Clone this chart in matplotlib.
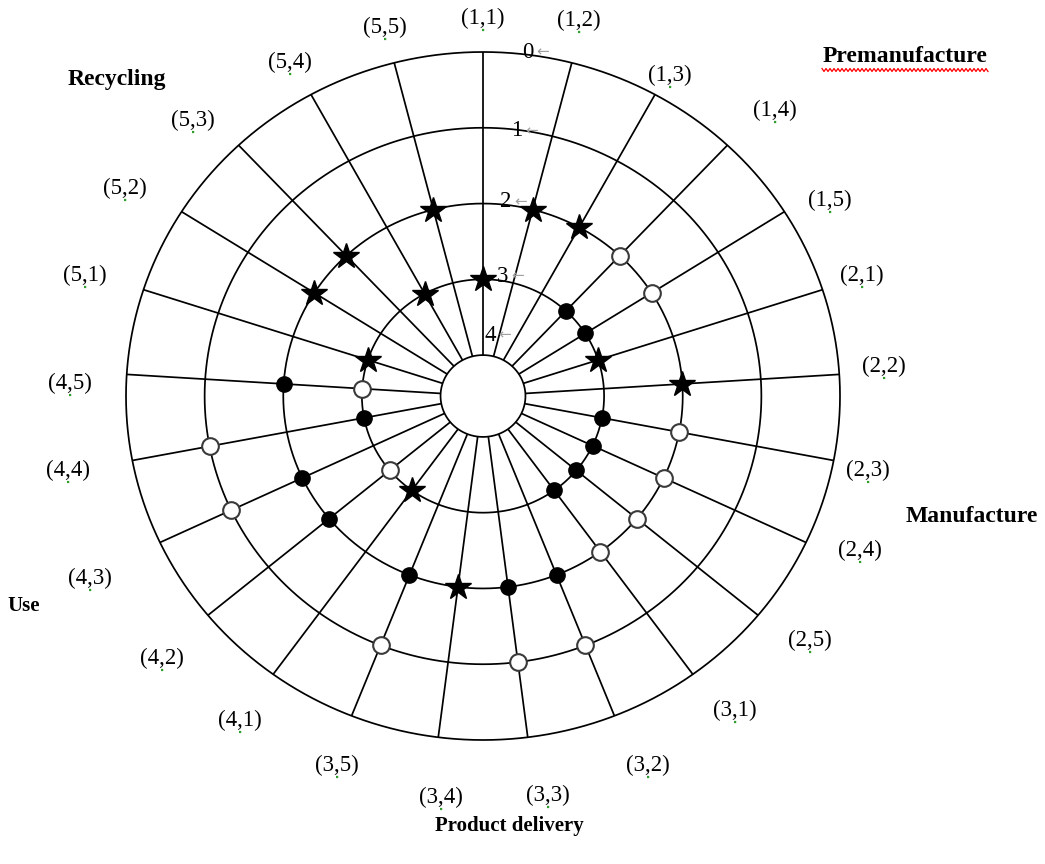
import numpy as np
import matplotlib
matplotlib.use("Agg")
import matplotlib.pyplot as plt
from matplotlib.lines import Line2D

# ---------------- data ----------------
categories = ["(1,1)", "(1,2)", "(1,3)", "(1,4)", "(1,5)",
              "(2,1)", "(2,2)", "(2,3)", "(2,4)", "(2,5)",
              "(3,1)", "(3,2)", "(3,3)", "(3,4)", "(3,5)",
              "(4,1)", "(4,2)", "(4,3)", "(4,4)", "(4,5)",
              "(5,1)", "(5,2)", "(5,3)", "(5,4)", "(5,5)"]
nan = np.nan
star_values = [3, 2, 2, nan, nan, 3, 2, nan, nan, nan,
               nan, nan, nan, 2, nan, 3, nan, nan, nan, nan,
               3, 2, 2, 3, 2]
filled_values = [nan, nan, nan, 3, 3, nan, nan, 3, 3, 3,
                 3, 2, 2, nan, 2, nan, 2, 2, 3, 2,
                 nan, nan, nan, nan, nan]
open_values = [nan, nan, nan, 2, 2, nan, nan, 2, 2, 2,
               2, 1, 1, nan, 1, nan, 3, 1, 1, 3,
               nan, nan, nan, nan, nan]
ring_levels = [0, 1, 2, 3, 4]
stage_labels = ["Premanufacture", "Manufacture", "Product delivery", "Use", "Recycling"]

# ---------------- layout (pixels from top-left) ----------------
W, H = 1045, 864
label_px = [(483, 18), (579, 20), (670, 75), (775, 110), (830, 200),
            (862, 275), (884, 366), (868, 470), (860, 550), (810, 640),
            (735, 710), (648, 765), (548, 795), (441, 797), (337, 765),
            (240, 720), (162, 658), (90, 578), (68, 470), (70, 383),
            (85, 275), (125, 188), (193, 120), (290, 62), (385, 27)]
stage_px = [(905, 57), (972, 517), (509, 826), (24, 606), (117, 80)]
stage_size = [17, 17, 15, 15, 17]

fig = plt.figure(figsize=(W / 100, H / 100), dpi=100)
fig.patch.set_facecolor("white")

left, right, top, bottom = 126, 840, 52, 740
ax = fig.add_axes([left / W, 1 - bottom / H, (right - left) / W, (bottom - top) / H],
                  projection="polar")
ax.set_theta_zero_location("N")
ax.set_theta_direction(-1)
ax.set_ylim(4.54, 0)          # reversed radial axis: 0 at rim
ax.set_aspect("auto")
ax.grid(False)
ax.set_xticks([])
ax.set_yticks([])
ax.spines["polar"].set_visible(False)
ax.patch.set_alpha(0)

n = len(categories)
theta = np.arange(n) * 2 * np.pi / n
theta_fine = np.linspace(0, 2 * np.pi, 721)

line_kw = dict(color="black", lw=1.25, solid_capstyle="butt", zorder=1, clip_on=False)
for lv in ring_levels:
    ax.plot(theta_fine, np.full_like(theta_fine, lv), **line_kw)
for t in theta:
    ax.plot([t, t], [ring_levels[-1], ring_levels[0]], **line_kw)

ax.plot(theta, star_values, ls="none", marker="*", ms=19, color="black",
        mec="black", zorder=4, clip_on=False)
ax.plot(theta, filled_values, ls="none", marker="o", ms=11, color="black",
        zorder=4, clip_on=False)
ax.plot(theta, open_values, ls="none", marker="o", ms=12, mfc="white",
        mec="#3a3a3a", mew=1.5, zorder=4, clip_on=False)

serif = ["Liberation Serif", "DejaVu Serif"]

# category labels
for lab, (x, y) in zip(categories, label_px):
    fig.text(x / W, 1 - y / H, lab, ha="center", va="center", fontsize=16.5,
             family=serif, color="black")
    fig.add_artist(Line2D([(x - 1) / W, (x + 4) / W], [1 - (y + 12) / H] * 2,
                          transform=fig.transFigure, color="#2e9e2e",
                          lw=1.6, ls=(0, (1, 1.5))))

# radial tick labels
tick_dx = [45, 34, 23, 20, 7]
tick_dy = [0, -3, 2, 3, 20]
for lv, dx, dy in zip(ring_levels, tick_dx, tick_dy):
    ax.annotate(str(lv), xy=(0, lv), xytext=(dx, dy), textcoords="offset pixels",
                ha="center", va="center", fontsize=16.5, family=serif, zorder=5,
                annotation_clip=False)
    ax.annotate("\u2190", xy=(0, lv), xytext=(dx + 15, dy), textcoords="offset pixels",
                ha="center", va="center", fontsize=11, color="#a0a0a0", zorder=5,
                annotation_clip=False)

# stage labels
for lab, (x, y), fs in zip(stage_labels, stage_px, stage_size):
    fig.text(x / W, 1 - y / H, lab, ha="center", va="center", fontsize=fs,
             fontweight="bold", family=serif)

# red wavy underline under "Premanufacture"
xs = np.arange(822, 990, 2.0)
ys = 70 + np.where((np.arange(len(xs)) % 2) == 0, -1.5, 1.5)
fig.add_artist(Line2D(xs / W, 1 - ys / H, transform=fig.transFigure,
                      color="red", lw=0.9))

fig.savefig("out.png", dpi=100, facecolor="white")
